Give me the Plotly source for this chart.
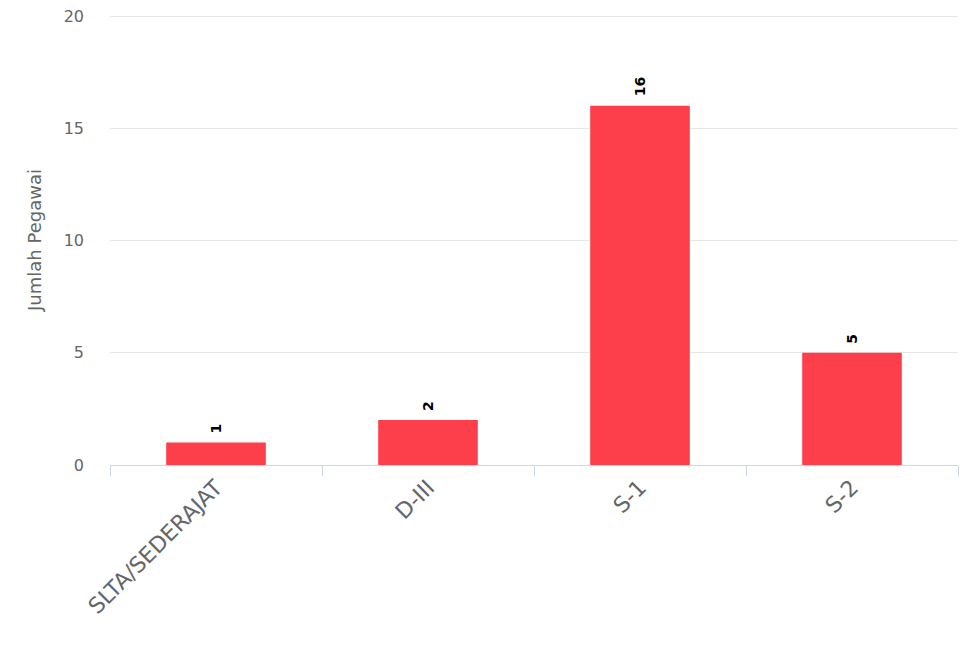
import plotly.graph_objects as go

categories = ["SLTA/SEDERAJAT", "D-III", "S-1", "S-2"]
values = [1, 2, 16, 5]
y_ticks = [0, 5, 10, 15, 20]

bar_color = "#FD3F4C"
font_family = "DejaVu Sans"

fig = go.Figure()
fig.add_trace(go.Bar(
    x=categories,
    y=values,
    marker=dict(color=bar_color, line=dict(width=0)),
    width=0.47,
    hoverinfo="x+y",
))

for c, v in zip(categories, values):
    fig.add_annotation(
        x=c, y=v, text=f"<b>{v}</b>", showarrow=False,
        textangle=-90, yanchor="bottom", yshift=7,
        font=dict(family=font_family, size=14, color="#000000"),
    )

# page body has an 8px margin, so the figure is sized to fit the window
fig.update_layout(
    width=959, height=634,
    margin=dict(l=102, r=9, t=7, b=177),
    plot_bgcolor="white", paper_bgcolor="white",
    showlegend=False,
    font=dict(family=font_family, color="#666666", size=16),
    bargap=0.53,
)
fig.update_xaxes(
    type="category",
    automargin=False,
    tickangle=-45,
    tickson="boundaries",
    ticks="outside", ticklen=10, tickcolor="#ccd6eb", tickwidth=1,
    showline=True, linecolor="#ccd6eb", linewidth=1,
    showgrid=False,
    tickfont=dict(size=22, color="#666666", family=font_family),
)
fig.update_yaxes(
    range=[0, 20.045],
    automargin=False,
    tickvals=y_ticks,
    showgrid=True, gridcolor="#e6e6e6", gridwidth=1,
    zeroline=False,
    showline=False,
    ticks="", ticklabelstandoff=25,
    ticklabeloverflow="allow",
    tickfont=dict(size=16, color="#666666", family=font_family),
    title=dict(text="Jumlah Pegawai", font=dict(size=18, color="#666666", family=font_family), standoff=17),
)

fig.write_html("out.html")
